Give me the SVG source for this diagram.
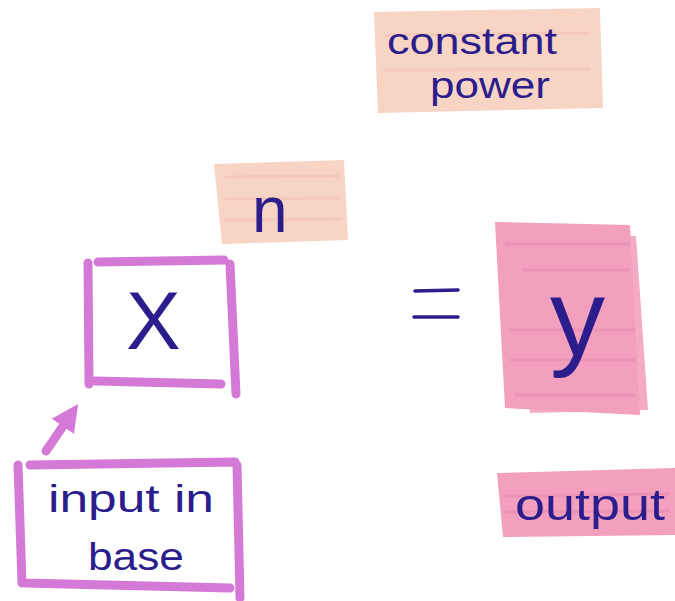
<svg xmlns="http://www.w3.org/2000/svg" width="675" height="601" viewBox="0 0 675 601">
<style>
.ink{fill:#2b1d8c;font-family:"Liberation Sans","DejaVu Sans",sans-serif;}
.mag{fill:none;stroke:#d47ad6;stroke-width:9;stroke-linecap:round;stroke-linejoin:round;}
.peach{fill:#f8d4c5;}
.pink{fill:#f39fbe;}
.stripe{stroke:#f0b4a4;stroke-width:3;opacity:0.35;}
.pstripe{stroke:#e07fa6;stroke-width:3;opacity:0.35;}
</style>
<defs>
<marker id="ah" viewBox="0 0 10 10" refX="6" refY="5" markerWidth="3" markerHeight="3" orient="auto"><path d="M0,0 L10,5 L0,10 z" fill="#d47ad6"/></marker>
</defs>
<rect width="675" height="601" fill="#ffffff"/>
<g id="node-constant-power">
<path class="peach" d="M374,12 L600,8 L603,108 L378,113 Z"/>
<line class="stripe" x1="385" y1="35" x2="590" y2="33"/>
<line class="stripe" x1="385" y1="70" x2="590" y2="69"/>
<text class="ink" x="387" y="54" font-size="36" textLength="170" lengthAdjust="spacingAndGlyphs">constant</text>
<text class="ink" x="430" y="98" font-size="36" textLength="120" lengthAdjust="spacingAndGlyphs">power</text>
</g>
<g id="node-n">
<path class="peach" d="M214,164 L344,160 L348,240 L222,244 Z"/>
<line class="stripe" x1="225" y1="177" x2="340" y2="176"/>
<line class="stripe" x1="225" y1="199" x2="340" y2="198"/>
<line class="stripe" x1="225" y1="220" x2="340" y2="219"/>
<text class="ink" x="252" y="232" font-size="64">n</text>
</g>
<g id="node-x">
<path class="mag" d="M98,262 L224,260 M88,263 L89,384 M230,264 L236,394 M95,381 L221,384"/>
<text class="ink" x="126" y="349" font-size="82">X</text>
</g>
<g id="node-equals">
<line x1="415" y1="291" x2="458" y2="290" stroke="#2b1d8c" stroke-width="3.5" stroke-linecap="round"/>
<line x1="414" y1="317" x2="458" y2="317" stroke="#2b1d8c" stroke-width="3.5" stroke-linecap="round"/>
</g>
<g id="node-y">
<path fill="#f5abc5" d="M520,232 L636,236 L648,410 L530,413 Z"/>
<path class="pink" d="M495,222 L630,225 L640,415 L505,408 Z"/>
<line class="pstripe" x1="505" y1="244" x2="630" y2="244"/>
<line class="pstripe" x1="522" y1="270" x2="630" y2="270"/>
<line class="pstripe" x1="510" y1="330" x2="635" y2="330"/>
<line class="pstripe" x1="510" y1="360" x2="635" y2="360"/>
<line class="pstripe" x1="515" y1="395" x2="635" y2="395"/>
<text class="ink" x="550" y="355" font-size="110">y</text>
</g>
<g id="node-input">
<path class="mag" d="M30,465 L235,462 M18,465 L22,583 M237,465 L240,598 M25,583 L230,588"/>
<text class="ink" x="48" y="512" font-size="38" textLength="166" lengthAdjust="spacingAndGlyphs">input in</text>
<text class="ink" x="88" y="570" font-size="38" textLength="96" lengthAdjust="spacingAndGlyphs">base</text>
</g>
<g id="node-output">
<path class="pink" d="M497,473 L675,468 L675,535 L503,537 Z"/>
<line class="pstripe" x1="505" y1="496" x2="670" y2="494"/>
<line class="pstripe" x1="505" y1="512" x2="670" y2="511"/>
<text class="ink" x="515" y="520" font-size="44" textLength="150" lengthAdjust="spacingAndGlyphs">output</text>
</g>
<g id="connectors">
<line class="mag" x1="46" y1="451" x2="72" y2="413" marker-end="url(#ah)"/>
</g>
</svg>
